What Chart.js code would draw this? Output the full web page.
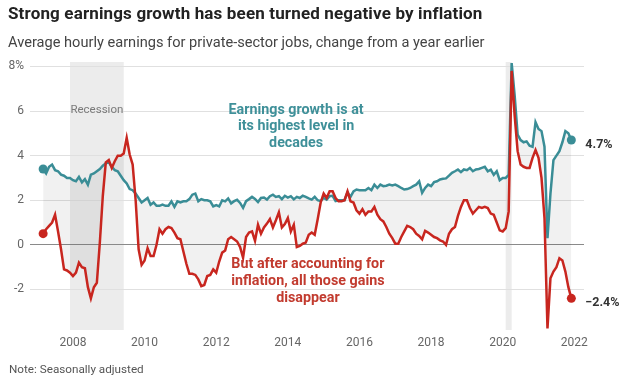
<!DOCTYPE html>
<html>
<head>
<meta charset="utf-8">
<script src="https://cdn.jsdelivr.net/npm/chart.js"></script>
<style>
  html, body { margin: 0; padding: 0; background: #fff; }
  body { width: 641px; height: 381px; overflow: hidden; position: relative; font-family: Roboto, "Liberation Sans", sans-serif; }
  .txt { position: absolute; left: 8px; white-space: nowrap; z-index: 2; }
  #title { top: 3px; font-size: 17px; line-height: 20px; letter-spacing: 0.15px; font-weight: bold; color: #222; }
  #subtitle { top: 33px; font-size: 14.6px; line-height: 18px; color: #444; }
  #note { left: 9px; top: 362px; font-size: 11.7px; line-height: 14px; color: #555; }
  #chart { position: absolute; left: 0; top: 0; }
</style>
</head>
<body>
<div class="txt" id="title">Strong earnings growth has been turned negative by inflation</div>
<div class="txt" id="subtitle">Average hourly earnings for private-sector jobs, change from a year earlier</div>
<div class="txt" id="note">Note: Seasonally adjusted</div>
<canvas id="chart" width="641" height="381"></canvas>
<script>
// monthly series, first value = March 2007, last = December 2021
const startYear = 2007;
const startMonth = 3;

// nominal earnings growth, % change from a year earlier
const earnings = [
    3.4, 3.2, 3.5, 3.6, 3.35, 3.3, 3.15, 3.1, 3.0, 3.0,
    2.9, 2.85, 3.05, 2.8, 2.95, 2.7, 3.15, 3.2, 3.3, 3.4, 3.55, 3.65,
    3.7, 3.5, 3.35, 3.3, 3.1, 2.9, 2.75, 2.5, 2.45, 2.3, 2.1, 1.9,
    2.0, 2.1, 1.8, 1.9, 1.75, 1.75, 1.8, 1.75, 1.75, 1.95, 1.7, 1.95,
    1.9, 1.95, 1.95, 2.05, 2.25, 2.3, 1.95, 2.05, 2.0, 2.0, 1.95, 1.72,
    1.78, 1.72, 2.0, 1.95, 2.08, 1.86, 1.96, 2.02, 1.88, 1.66, 1.96, 2.05,
    2.15, 2.06, 1.92, 2.1, 2.12, 2.03, 2.18, 2.25, 2.15, 2.18, 2.05, 2.2,
    2.12, 2.18, 2.04, 2.15, 2.1, 2.2, 2.15, 2.08, 2.03, 2.15, 2.0, 1.96,
    2.1, 2.03, 2.18, 2.2, 1.96, 2.0, 2.0, 2.0, 2.36, 2.15, 2.4, 2.48,
    2.45, 2.45, 2.45, 2.55, 2.45, 2.7, 2.55, 2.7, 2.63, 2.65, 2.7, 2.66,
    2.7, 2.63, 2.55, 2.48, 2.5, 2.55, 2.63, 2.7, 2.85, 2.33, 2.55, 2.7,
    2.63, 2.81, 2.85, 2.93, 2.96, 2.98, 3.1, 3.23, 3.3, 3.38, 3.26, 3.38,
    3.35, 3.45, 3.3, 3.38, 3.4, 3.45, 3.5, 3.3, 3.37, 3.14, 3.3, 2.9,
    3.0, 3.0, 3.14, 8.15, 6.7, 4.94, 4.7, 4.6, 4.64, 4.45, 4.4, 5.5,
    5.2, 5.1, 4.4, 0.3, 2.3, 3.8, 4.0, 4.2, 4.6, 5.1, 5.0, 4.7
];

// inflation-adjusted earnings growth
const realEarnings = [
    0.5, 0.7, 0.85, 1.0, 1.35, 0.6, -0.2, -1.1, -1.15, -1.25,
    -1.4, -1.25, -0.8, -1.0, -1.05, -1.9, -2.4, -1.9, -1.7, 0.1, 2.2, 3.7,
    3.8, 3.45, 3.75, 4.0, 4.0, 4.1, 4.8, 4.05, 3.6, 2.0, -0.2, -0.9,
    -0.7, -0.15, -0.5, -0.5, 0.0, 0.7, 0.5, 0.7, 0.8, 0.75, 0.55, 0.3,
    0.25, -0.3, -0.85, -1.3, -1.3, -1.35, -1.55, -1.85, -1.8, -1.4, -1.35, -1.1,
    -1.25, -0.75, -0.35, -0.25, 0.25, 0.35, 0.25, 0.15, -0.1, -0.58, 0.35, 0.55,
    0.6, 0.18, 0.9, 0.5, 0.78, 0.95, 1.16, 0.78, 1.1, 1.46, 0.78, 0.93,
    1.2, 0.6, 0.9, -0.1, -0.05, 0.05, 0.1, 0.45, 0.55, 0.45, 1.15, 1.9,
    2.3, 2.1, 2.4, 2.4, 2.1, 1.95, 1.95, 2.0, 2.4, 1.95, 1.9, 1.55,
    1.4, 1.6, 1.35, 1.5, 1.5, 1.7, 1.35, 1.15, 1.05, 0.8, 0.5, 0.3,
    0.05, 0.05, 0.35, 0.6, 0.85, 0.8, 0.7, 0.5, 0.4, 0.25, 0.63, 0.55,
    0.45, 0.35, 0.3, 0.2, 0.15, 0.0, 0.5, 0.7, 0.8, 1.3, 1.7, 2.0,
    2.0, 1.65, 1.4, 1.55, 1.7, 1.65, 1.7, 1.65, 1.4, 1.35, 1.0, 0.65,
    0.6, 0.75, 1.5, 7.8, 5.8, 4.2, 3.6, 3.5, 3.45, 3.45, 3.9, 4.25,
    3.9, 3.0, 1.2, -3.75, -1.5, -1.2, -1.0, -0.6, -0.7, -1.2, -1.9, -2.4
];

const xTicks = [2008, 2010, 2012, 2014, 2016, 2018, 2020, 2022];
const yTicks = [-2, 0, 2, 4, 6, 8];
// recessions as [start, end] in decimal years (Dec 2007-Jun 2009, Feb-Apr 2020)
const recessions = [[2007 + 11 / 12, 2009 + 5 / 12], [2020 + 1 / 12, 2020 + 3 / 12]];

const teal = '#3a8d96';
const red = '#c8261f';

function toPoints(values) {
    return values.map((v, i) => ({ x: startYear + (startMonth - 1 + i) / 12, y: v }));
}

function endDots(ctx) {
    const n = ctx.dataset.data.length;
    return (ctx.dataIndex === 0 || ctx.dataIndex === n - 1) ? 4.5 : 0;
}

const overlay = {
    id: 'overlay',
    beforeDraw(chart) {
        const { ctx, chartArea: a, scales: { x } } = chart;
        ctx.save();
        ctx.fillStyle = '#ececec';
        recessions.forEach(([s, e]) => {
            const x0 = x.getPixelForValue(s);
            const x1 = x.getPixelForValue(e);
            ctx.fillRect(x0, a.top, x1 - x0, a.bottom - a.top);
        });
        ctx.restore();
    },
    afterDatasetsDraw(chart) {
        const { ctx, scales: { x, y } } = chart;
        ctx.save();
        ctx.textAlign = 'center';
        ctx.textBaseline = 'middle';

        // recession label
        const r = recessions[0];
        ctx.fillStyle = '#7a7a7a';
        ctx.font = '11.5px Roboto, "Liberation Sans", sans-serif';
        ctx.fillText('Recession', (x.getPixelForValue(r[0]) + x.getPixelForValue(r[1])) / 2, y.getPixelForValue(6) - 1);

        ctx.font = 'bold 14.3px Roboto, "Liberation Sans", sans-serif';
        ctx.fillStyle = '#3f9099';
        ['Earnings growth is at', 'its highest level in', 'decades'].forEach((t, i) => {
            ctx.fillText(t, x.getPixelForValue(2014.23), y.getPixelForValue(6.05) + i * 16.6);
        });
        ctx.fillStyle = '#c23b2f';
        ['But after accounting for', 'inflation, all those gains', 'disappear'].forEach((t, i) => {
            ctx.fillText(t, x.getPixelForValue(2014.56), y.getPixelForValue(-0.9) + i * 16.6);
        });

        // end labels
        ctx.textAlign = 'left';
        ctx.fillStyle = '#333';
        ctx.font = 'bold 12.5px Roboto, "Liberation Sans", sans-serif';
        chart.data.datasets.forEach(ds => {
            const last = ds.data[ds.data.length - 1];
            const label = (last.y < 0 ? '\u2212' + Math.abs(last.y) : last.y) + '%';
            ctx.fillText(label, x.getPixelForValue(last.x) + 14, y.getPixelForValue(last.y) + 5);
        });
        ctx.restore();
    }
};

new Chart(document.getElementById('chart'), {
    type: 'line',
    data: {
        datasets: [
            {
                label: 'After inflation',
                data: toPoints(realEarnings),
                borderColor: red,
                backgroundColor: red,
                borderWidth: 2.5,
                pointRadius: endDots,
                pointBorderWidth: 0,
                fill: false,
                tension: 0
            },
            {
                label: 'Earnings growth',
                data: toPoints(earnings),
                borderColor: teal,
                backgroundColor: teal,
                borderWidth: 2.5,
                pointRadius: endDots,
                pointBorderWidth: 0,
                fill: { target: '-1', above: 'rgba(0,0,0,0.055)', below: 'rgba(0,0,0,0.055)' },
                tension: 0
            }
        ]
    },
    options: {
        responsive: false,
        animation: false,
        layout: { padding: { top: 62, right: 57, left: 0, bottom: 0 } },
        plugins: {
            legend: { display: false },
            tooltip: { enabled: false },
            filler: { drawTime: 'beforeDatasetsDraw' }
        },
        scales: {
            x: {
                type: 'linear',
                min: 2006.8,
                max: 2022.27,
                afterBuildTicks: axis => { axis.ticks = xTicks.map(v => ({ value: v })); },
                afterFit: axis => { axis.height = 51; },
                grid: { display: false, drawTicks: false },
                border: { display: false },
                ticks: {
                    padding: 6,
                    color: '#666',
                    font: { size: 12, family: 'Roboto' },
                    callback: v => String(v)
                }
            },
            y: {
                min: -3.82,
                max: 8.2,
                afterBuildTicks: axis => { axis.ticks = yTicks.map(v => ({ value: v })); },
                afterFit: axis => { axis.width = 30; },
                grid: {
                    drawTicks: false,
                    color: c => c.tick.value === 0 ? '#8a8a8a' : '#e0e0e0'
                },
                border: { display: false },
                ticks: {
                    padding: 6,
                    color: '#666',
                    font: { size: 12, family: 'Roboto' },
                    callback: v => v === 8 ? '8%' : String(v)
                }
            }
        }
    },
    plugins: [overlay]
});
</script>
</body>
</html>
